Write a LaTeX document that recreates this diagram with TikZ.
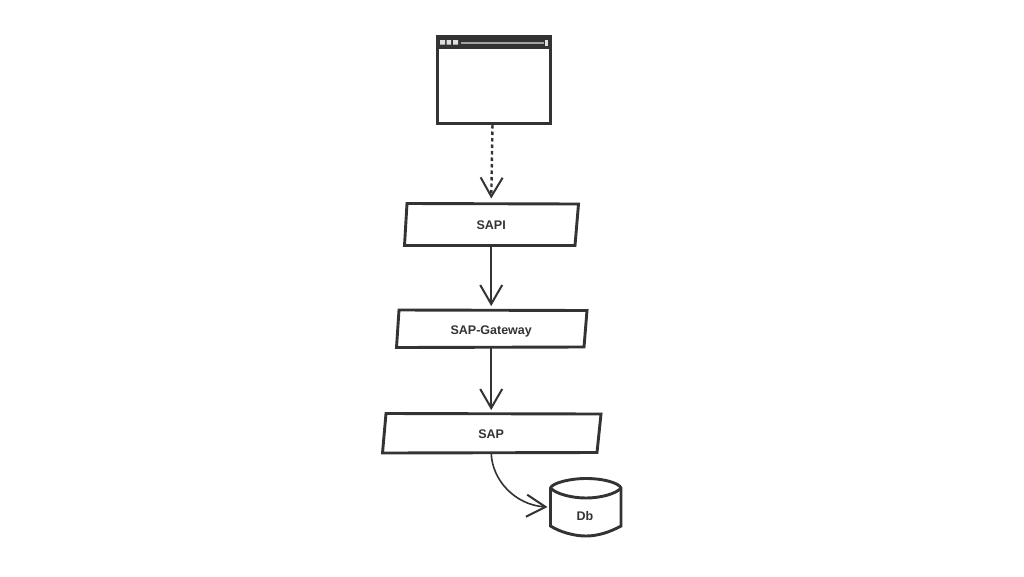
\documentclass[tikz,border=0pt]{standalone}
\usepackage{fontspec}
\usetikzlibrary{arrows.meta}
\setmainfont{Liberation Sans}
\definecolor{ink}{HTML}{333333}
\tikzset{
  box/.style={draw=ink,line width=2.9pt,line join=miter,fill=white},
  lab/.style={font=\bfseries\fontsize{12.5}{14}\selectfont,text=ink,inner sep=0pt,text height=9pt,text depth=0pt},
  anchorbox/.style={inner sep=0pt,outer sep=0pt},
  barb/.style={-{Straight Barb[length=19pt,width=22pt,line width=2pt]}},
  conn/.style={draw=ink,line width=2pt,barb}
}
\begin{document}
\begin{tikzpicture}[x=1pt,y=-1pt]
\useasboundingbox (0,0) rectangle (1024,576);
\fill[white] (0,0) rectangle (1024,576);
% browser
\node[anchorbox,minimum width=113pt,minimum height=87pt] (browser) at (492.5,79.5) {};
\draw[box,line width=3pt] (437.5,36.5) rectangle (550,123);
\fill[ink] (437.5,36.5) rectangle (550,49);
\fill[white!85!ink] (440,40) rectangle (445,44.5) (446.5,40) rectangle (451,44.5) (453,40) rectangle (458,44.5);
\fill[ink!45!white] (461,41.5) rectangle (544,43.5);
\fill[white!85!ink] (545,39.5) rectangle (547.5,46);
% process boxes
\draw[box] (407,203.5) -- (578.5,204) -- (575,245.5) -- (404.5,245.5) -- cycle;
\node[lab,anchorbox,minimum width=170pt,minimum height=42pt] (sapi) at (491.2,224.5) {SAPI};
\draw[box] (399,310) -- (587,310.5) -- (584,347) -- (396.5,347.5) -- cycle;
\node[lab,anchorbox,minimum width=188pt,minimum height=37pt] (gateway) at (491.2,329.5) {SAP-Gateway};
\draw[box] (386,413.5) -- (601,414) -- (597,452.5) -- (382.5,453) -- cycle;
\node[lab,anchorbox,minimum width=215pt,minimum height=39pt] (sap) at (491.2,433.5) {SAP};
% database
\draw[box] (550.5,488) .. controls (552,483) and (570,478.5) .. (586,478.5) .. controls (604,478.5) and (619,483) .. (621,488)
  -- (621,526) .. controls (610,532) and (598,536) .. (586,536) .. controls (574,536) and (560,532) .. (550.5,526) -- cycle;
\draw[draw=ink,line width=2.9pt] (550.5,488) .. controls (556,494) and (572,498) .. (586,498) .. controls (600,498) and (616,494) .. (621,488);
\node[anchorbox,minimum width=70pt,minimum height=58pt] (db) at (585.5,507) {};
\node[lab] (dblabel) at (585,516) {Db};
% connectors
\draw[conn,line width=2.4pt,dash pattern=on 3.5pt off 3pt,dash phase=-2pt,shorten >=5pt] (browser.south) -- (sapi.north);
\draw[conn,shorten >=5pt] (sapi.south) -- (gateway.north);
\draw[conn,shorten >=4pt] (gateway.south) -- (sap.north);
\draw[conn,line width=1.6pt] (sap.south) .. controls (492,480) and (515,505) .. ([xshift=-3pt]db.west);
\end{tikzpicture}
\end{document}
